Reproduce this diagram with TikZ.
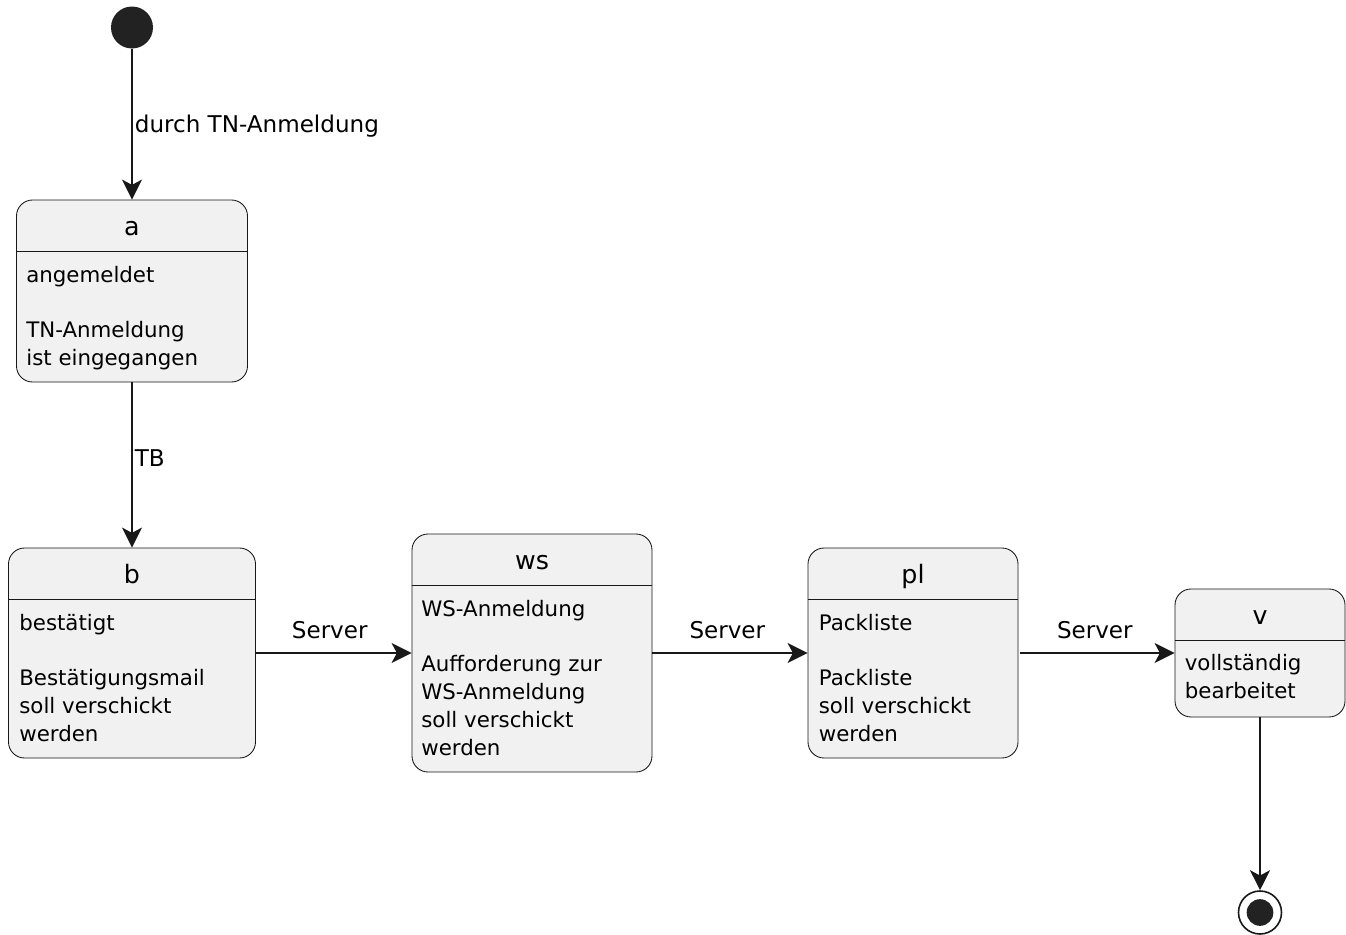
\documentclass[tikz,border=0pt]{standalone}
\usepackage{fontspec}
\setmainfont{DejaVu Sans}
\usetikzlibrary{arrows.meta,calc}
\definecolor{stfill}{HTML}{F1F1F1}
\definecolor{stline}{HTML}{181818}
\definecolor{dot}{HTML}{222222}
\tikzset{
  state/.style={draw=stline, fill=stfill, line width=0.65pt, rounded corners=12pt, inner sep=0pt, rectangle},
  hdr/.style={draw=stline, line width=0.65pt},
  ttl/.style={anchor=base, inner sep=0pt, font=\fontsize{19pt}{21pt}\selectfont},
  body/.style={anchor=base west, inner sep=0pt, font=\fontsize{16pt}{20.8pt}\selectfont},
  lbl/.style={inner sep=0pt, font=\fontsize{17.3pt}{21pt}\selectfont},
  edge/.style={draw=stline, line width=1.3pt, -{Stealth[length=15pt,width=15pt,inset=4pt]}},
}
\begin{document}
\begin{tikzpicture}[x=0.75pt, y=-0.75pt]
\useasboundingbox (0,0) rectangle (1346,935);

% start
\node[circle, fill=dot, minimum size=31.5pt, inner sep=0pt] (start) at (132,27.5) {};

% state a
\node[state, minimum width=173.25pt, minimum height=136.5pt] (a) at (132,291) {};
\draw[hdr] ($(a.north west)+(0,52)$) -- ($(a.north east)+(0,52)$);
\node[ttl] (a-t) at ($(a.north)+(0,36)$) {a};
\node[body] (a-1) at ($(a.north west)+(10,83)$) {angemeldet};
\node[body] (a-2) at ($(a.north west)+(10,138.4)$) {TN-Anmeldung};
\node[body] (a-3) at ($(a.north west)+(10,166.2)$) {ist eingegangen};

% state b
\node[state, minimum width=185.25pt, minimum height=157.5pt] (b) at (132,653) {};
\draw[hdr] ($(b.north west)+(0,52)$) -- ($(b.north east)+(0,52)$);
\node[ttl] (b-t) at ($(b.north)+(0,36)$) {b};
\node[body] (b-1) at ($(b.north west)+(11,83)$) {bestätigt};
\node[body] (b-2) at ($(b.north west)+(11,138.4)$) {Bestätigungsmail};
\node[body] (b-3) at ($(b.north west)+(11,166.2)$) {soll verschickt};
\node[body] (b-4) at ($(b.north west)+(11,194)$) {werden};

% state ws
\node[state, minimum width=180pt, minimum height=178.5pt] (ws) at (532,653) {};
\draw[hdr] ($(ws.north west)+(0,52)$) -- ($(ws.north east)+(0,52)$);
\node[ttl] (ws-t) at ($(ws.north)+(0,36)$) {ws};
\node[body] (ws-1) at ($(ws.north west)+(9.5,83)$) {WS-Anmeldung};
\node[body] (ws-2) at ($(ws.north west)+(9.5,138.4)$) {Aufforderung zur};
\node[body] (ws-3) at ($(ws.north west)+(9.5,166.2)$) {WS-Anmeldung};
\node[body] (ws-4) at ($(ws.north west)+(9.5,194)$) {soll verschickt};
\node[body] (ws-5) at ($(ws.north west)+(9.5,221.8)$) {werden};

% state pl
\node[state, minimum width=157.5pt, minimum height=157.5pt] (pl) at (913,653) {};
\draw[hdr] ($(pl.north west)+(0,52)$) -- ($(pl.north east)+(0,52)$);
\node[ttl] (pl-t) at ($(pl.north)+(0,36)$) {pl};
\node[body] (pl-1) at ($(pl.north west)+(11,83)$) {Packliste};
\node[body] (pl-2) at ($(pl.north west)+(11,138.4)$) {Packliste};
\node[body] (pl-3) at ($(pl.north west)+(11,166.2)$) {soll verschickt};
\node[body] (pl-4) at ($(pl.north west)+(11,194)$) {werden};

% state v
\node[state, minimum width=127.5pt, minimum height=96pt] (v) at (1260,653) {};
\draw[hdr] ($(v.north west)+(0,52)$) -- ($(v.north east)+(0,52)$);
\node[ttl] (v-t) at ($(v.north)+(0,36)$) {v};
\node[body] (v-1) at ($(v.north west)+(10,82)$) {vollständig};
\node[body] (v-2) at ($(v.north west)+(10,109.8)$) {bearbeitet};

% end
\node[circle, draw=stline, fill=white, line width=1.2pt, minimum size=32.25pt, inner sep=0pt] (end) at (1260,912.5) {};
\fill[dot] (end.center) circle[radius=10pt];

% edges
\draw[edge] (start) -- (a) node[lbl, pos=0.556, anchor=base west, xshift=1.5pt] (l1) {durch TN-Anmeldung};
\draw[edge] (a) -- (b) node[lbl, pos=0.512, anchor=base west, xshift=1.5pt] (l2) {TB};
\draw[edge] (b) -- (ws) node[lbl, midway, anchor=base, yshift=11.25pt, xshift=-3pt] (l3) {Server};
\draw[edge] (ws) -- (pl) node[lbl, midway, anchor=base, yshift=11.25pt, xshift=-2pt] (l4) {Server};
\draw[edge] ([xshift=1.5pt]pl.east) -- (v) node[lbl, midway, anchor=base, yshift=11.25pt, xshift=-2pt] (l5) {Server};
\draw[edge] (v) -- (end);
\end{tikzpicture}
\end{document}
